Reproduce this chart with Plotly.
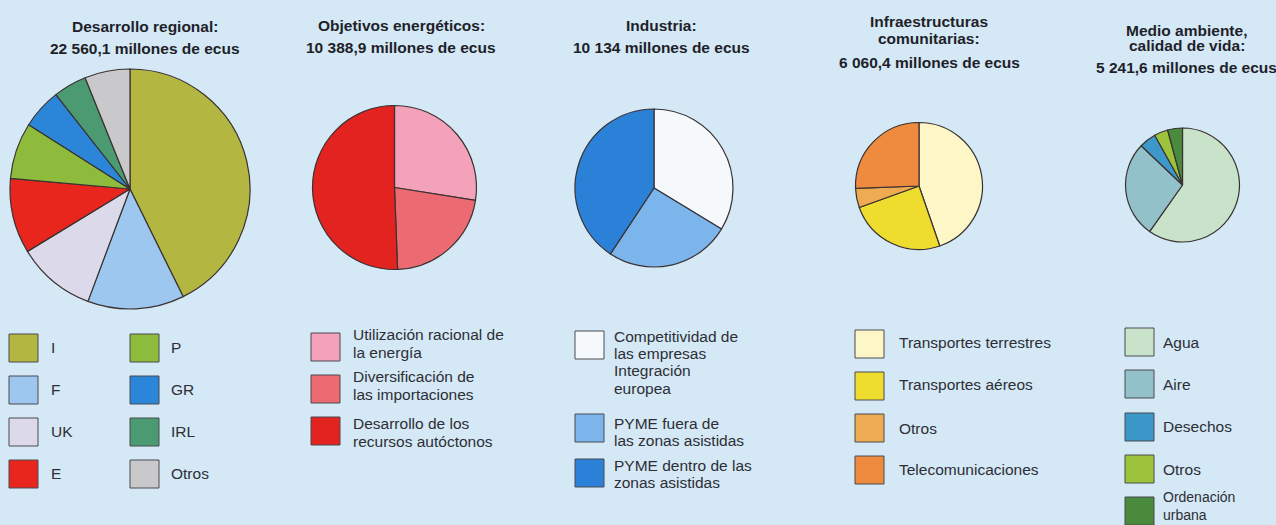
import plotly.graph_objects as go

W, H = 1276, 525
BG = "#d4e8f5"
FONT = "Liberation Sans, Arial, Helvetica, sans-serif"
INK = "#1f1f2a"
EDGE = "#3a3232"

# ---- data: shares of each programme (%) ----
regional_title = ["Desarrollo regional:", "22 560,1 millones de ecus"]
regional_labels = ["I", "F", "UK", "E", "P", "GR", "IRL", "Otros"]
regional_shares = [42.7, 13.0, 10.6, 10.1, 7.6, 5.4, 4.5, 6.1]
regional_colors = ["#b4b642", "#9dc7ee", "#dcd9eb", "#e8261e",
                   "#8fbb3c", "#2b86d9", "#4b9a72", "#c9c9cb"]

energy_title = ["Objetivos energéticos:", "10 388,9 millones de ecus"]
energy_labels = [["Utilización racional de", "la energía"],
                 ["Diversificación de", "las importaciones"],
                 ["Desarrollo de los", "recursos autóctonos"]]
energy_shares = [27.5, 21.9, 50.6]
energy_colors = ["#f4a2ba", "#ec6b72", "#e32320"]

industry_title = ["Industria:", "10 134 millones de ecus"]
industry_labels = [["Competitividad de", "las empresas", "Integración", "europea"],
                   ["PYME fuera de", "las zonas asistidas"],
                   ["PYME dentro de las", "zonas asistidas"]]
industry_shares = [33.7, 25.6, 40.7]
industry_colors = ["#f6f9fc", "#7cb5ec", "#2b80d7"]

infra_title = ["Infraestructuras", "comunitarias:", "6 060,4 millones de ecus"]
infra_labels = [["Transportes terrestres"], ["Transportes aéreos"],
                ["Otros"], ["Telecomunicaciones"]]
infra_shares = [44.7, 24.8, 4.9, 25.6]
infra_colors = ["#fdf6c6", "#eedd2e", "#efab52", "#ee8b3e"]

env_title = ["Medio ambiente,", "calidad de vida:", "5 241,6 millones de ecus"]
env_labels = [["Agua"], ["Aire"], ["Desechos"], ["Otros"], ["Ordenación", "urbana"]]
env_shares = [59.8, 27.3, 4.8, 3.9, 4.2]
env_colors = ["#c9e3ca", "#92c1c9", "#3b98c9", "#9dc33c", "#4a8a3c"]


def px_x(x):
    return x / W


def px_y(y):
    return 1 - y / H


fig = go.Figure()

# pie geometry in pixels: centre x, centre y, radius
pies = [
    (regional_labels, regional_shares, regional_colors, (130, 189, 120)),
    ([" ".join(l) for l in energy_labels], energy_shares, energy_colors, (394.5, 187.5, 82)),
    ([" ".join(l) for l in industry_labels], industry_shares, industry_colors, (654, 188, 79)),
    ([" ".join(l) for l in infra_labels], infra_shares, infra_colors, (919, 186, 63.5)),
    ([" ".join(l) for l in env_labels], env_shares, env_colors, (1182.5, 185, 57)),
]

for labels, shares, colors, (cx, cy, r) in pies:
    fig.add_trace(go.Pie(
        labels=labels, values=shares, sort=False, direction="clockwise",
        rotation=0, textinfo="none", showlegend=False,
        marker=dict(colors=colors, line=dict(color=EDGE, width=1.2)),
        domain=dict(x=[px_x(cx - r), px_x(cx + r)],
                    y=[px_y(cy + r), px_y(cy - r)]),
        hovertemplate="%{label}: %{value}%<extra></extra>",
    ))

annotations = []
shapes = []


def title(lines, cx, ys):
    for text, y in zip(lines, ys):
        annotations.append(dict(
            text=text, x=px_x(cx), y=px_y(y), xref="paper", yref="paper",
            xanchor="center", yanchor="middle", showarrow=False,
            font=dict(family=FONT, size=15.5, color=INK, weight="bold")))


title(regional_title, 145, [27, 48.5])
title(energy_title, 401, [25.5, 48])
title(industry_title, 661, [25.5, 48])
title(infra_title, 929, [22, 38, 62])
title(env_title, 1186.5, [30, 45, 67.5])


def legend(items, colors, sq_x, sq_tops, text_x, first_line_ys, step=17.6,
           size=28, joined=False, font_size=15.5):
    for lines, col, top, y0 in zip(items, colors, sq_tops, first_line_ys):
        shapes.append(dict(
            type="rect", xref="paper", yref="paper",
            x0=px_x(sq_x), x1=px_x(sq_x + size + 1),
            y0=px_y(top + size), y1=px_y(top),
            fillcolor=col, line=dict(color="#4a4a50", width=1)))
        if joined:
            # one text block; line spacing comes from the font size
            chunks = [("<br>".join(lines), y0 + (len(lines) - 1) * step / 2)]
        else:
            chunks = [(line, y0 + i * step) for i, line in enumerate(lines)]
        for text, y in chunks:
            annotations.append(dict(
                text=text, x=px_x(text_x), y=px_y(y),
                xref="paper", yref="paper", xanchor="left", yanchor="middle",
                align="left", showarrow=False, borderpad=0,
                font=dict(family=FONT, size=font_size, color="#2e2e36")))


rows4 = [334, 376, 418, 460]
legend([[l] for l in regional_labels[:4]], regional_colors[:4], 9, rows4, 50,
       [347, 389, 431, 473])
legend([[l] for l in regional_labels[4:]], regional_colors[4:], 130, rows4, 170,
       [347, 389, 431, 473])
legend(energy_labels, energy_colors, 311, [333, 375, 417], 352,
       [334, 376, 423], step=18)
legend(industry_labels, industry_colors, 575, [331, 414, 459], 613,
       [336, 423, 465], step=17.4)
legend(infra_labels, infra_colors, 855, [330, 372, 414, 456], 898,
       [342, 384, 428, 469])
legend(env_labels[:4], env_colors[:4], 1125, [328, 370, 413, 455], 1162,
       [342, 384, 426, 469])
legend(env_labels[4:], env_colors[4:], 1125, [497], 1162, [496.5],
       step=18.2, joined=True, font_size=14)

fig.update_layout(
    width=W, height=H,
    margin=dict(l=0, r=0, t=0, b=0),
    paper_bgcolor=BG, plot_bgcolor=BG,
    annotations=annotations, shapes=shapes,
    font=dict(family=FONT),
)

fig.write_html("out.html")
